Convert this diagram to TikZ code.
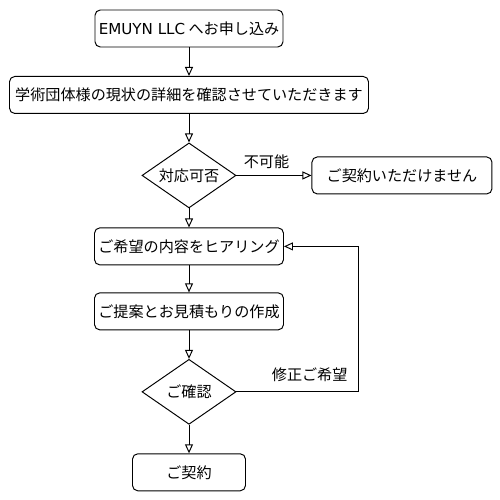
\documentclass[tikz,border=0pt]{standalone}
\usepackage{fontspec}
\setmainfont{Noto Sans CJK JP}
\newfontfamily\latinfont{DejaVu Sans}
\usetikzlibrary{arrows.meta,positioning,shapes.geometric}

\begin{document}
\begin{tikzpicture}[
line width=0.55pt,
node distance=0.57cm and 1.5cm,
flowstep/.style={draw, rounded corners=3pt, align=center, inner xsep=2pt, minimum width=3.78cm, minimum height=0.74cm, font=\fontsize{8.6}{10}\selectfont},
decision/.style={draw, diamond, aspect=1.45, minimum width=1.88cm, minimum height=1.3cm, inner sep=1pt, font=\fontsize{8.6}{10}\selectfont},
lbl/.style={font=\fontsize{8.6}{10}\selectfont},
arrow/.style={-{Triangle[open, length=0.18cm, width=0.16cm]}}
]
\useasboundingbox (0,0) rectangle (10,-10);
\node[flowstep, minimum width=3.76cm] (apply) at (3.78,-0.57) {{\latinfont EMUYN LLC} へお申し込み};
\node[flowstep, minimum width=7.18cm, below=of apply] (detail) {学術団体様の現状の詳細を確認させていただきます};
\node[decision, below=of detail] (check) {対応可否};
\node[flowstep, minimum width=3.6cm, right=of check] (reject) {ご契約いただけません};
\node[flowstep, below=0.38cm of check] (hear) {ご希望の内容をヒアリング};
\node[flowstep, below=0.54cm of hear] (offer) {ご提案とお見積もりの作成};
\node[decision, below=of offer] (confirm) {ご確認};
\node[flowstep, minimum width=2.26cm, below=of confirm] (contract) {ご契約};
\draw[arrow] (apply) -- (detail);
\draw[arrow] (detail) -- (check);
\draw[arrow] (check) -- node[above, pos=0.4, lbl] {不可能} (reject);
\draw[arrow] (check) -- (hear);
\draw[arrow] (hear) -- (offer);
\draw[arrow] (offer) -- (confirm);
\draw[arrow] (confirm) -- (contract);
\draw[arrow] (confirm.east) -- node[above, pos=0.6, yshift=2pt, lbl] {修正ご希望} ++(2.44,0) |- (hear.east);
\end{tikzpicture}
\end{document}
